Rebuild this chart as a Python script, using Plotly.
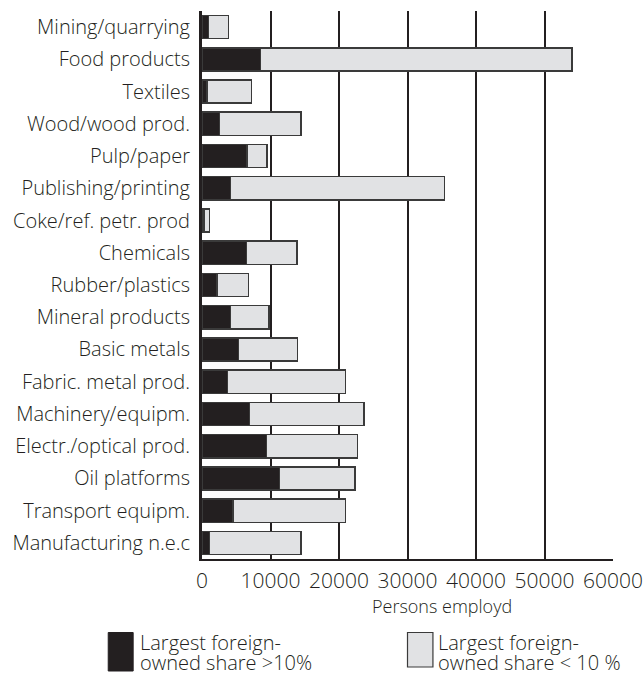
import plotly.graph_objects as go

categories = ["Mining/quarrying", "Food products", "Textiles", "Wood/wood prod.", "Pulp/paper",
              "Publishing/printing", "Coke/ref. petr. prod", "Chemicals", "Rubber/plastics",
              "Mineral products", "Basic metals", "Fabric. metal prod.", "Machinery/equipm.",
              "Electr./optical prod.", "Oil platforms", "Transport equipm.", "Manufacturing n.e.c"]
share_gt10 = [980, 8550, 740, 2530, 6560, 4180, 300, 6500, 2200, 4180, 5340, 3700, 6950, 9420, 11310, 4520, 1080]
total = [3900, 54000, 7200, 14470, 9520, 35400, 1100, 13900, 6800, 9770, 13930, 20970, 23640, 22670, 22370, 20970, 14470]
share_lt10 = [t - b for t, b in zip(total, share_gt10)]
x_ticks = [0, 10000, 20000, 30000, 40000, 50000, 60000]

FONT = "Open Sans"
WT = 300
DARK = "#231f20"
LIGHT = "#e1e2e4"
W, H = 643, 674
ML, MR, MT, MB = 201.5, 29.5, 11, 115

fig = go.Figure()
fig.add_trace(go.Bar(y=categories, x=share_gt10, orientation="h", name="Largest foreign-owned share >10%",
                     marker=dict(color=DARK, line=dict(color="#3a3a3a", width=1.5))))
fig.add_trace(go.Bar(y=categories, x=share_lt10, orientation="h", name="Largest foreign-owned share < 10 %",
                     marker=dict(color=LIGHT, line=dict(color="#3a3a3a", width=1.5))))

fig.update_layout(
    width=W, height=H,
    margin=dict(l=ML, r=MR, t=MT, b=MB, pad=0),
    barmode="stack", bargap=0.28,
    plot_bgcolor="white", paper_bgcolor="white",
    showlegend=False,
    font=dict(family=FONT, size=17, color=DARK, weight=WT),
    xaxis=dict(range=[0, 60000], tickvals=x_ticks, ticktext=[str(v) for v in x_ticks],
               showgrid=True, gridcolor=DARK, gridwidth=2, zeroline=False, automargin=False,
               showline=True, linecolor=DARK, linewidth=2, ticks="", ticklabelstandoff=2,
               tickfont=dict(size=21, family=FONT, color=DARK, weight=WT)),
    yaxis=dict(autorange="reversed", showgrid=False, showline=True, linecolor=DARK, linewidth=3,
               automargin=False, ticks="", ticklabelstandoff=5,
               tickfont=dict(size=20, family=FONT, color=DARK, weight=WT)),
)

PW = W - ML - MR
PH = H - MT - MB

def px_x(px):
    return (px - ML) / PW

def px_y(py):
    return (H - MB - py) / PH

fig.add_annotation(xref="paper", yref="paper", x=px_x(442), y=px_y(606),
                   text="Persons employd", showarrow=False, xanchor="center", yanchor="middle",
                   font=dict(size=18, family=FONT, color=DARK, weight=WT))

fig.add_shape(type="rect", xref="paper", yref="paper", x0=px_x(107.5), x1=px_x(132.5), y0=px_y(671), y1=px_y(632.5),
              fillcolor=DARK, line=dict(color=DARK, width=1))
fig.add_shape(type="rect", xref="paper", yref="paper", x0=px_x(407.5), x1=px_x(433), y0=px_y(667), y1=px_y(632.5),
              fillcolor=LIGHT, line=dict(color="#3a3a3a", width=1.2))

legend_lines = [(139, "Largest foreign-", "owned share >10%"), (438, "Largest foreign-", "owned share < 10 %")]
for x0, l1, l2 in legend_lines:
    fig.add_annotation(xref="paper", yref="paper", x=px_x(x0 - 2), y=px_y(642), xanchor="left", yanchor="middle",
                       text=l1, showarrow=False, font=dict(size=20, family=FONT, color=DARK, weight=WT))
    fig.add_annotation(xref="paper", yref="paper", x=px_x(x0 - 2), y=px_y(662.5), xanchor="left", yanchor="middle",
                       text=l2, showarrow=False, font=dict(size=20, family=FONT, color=DARK, weight=WT))

fig.write_html("out.html", post_script="document.body.style.margin='0px';",
               config={"displayModeBar": False})
